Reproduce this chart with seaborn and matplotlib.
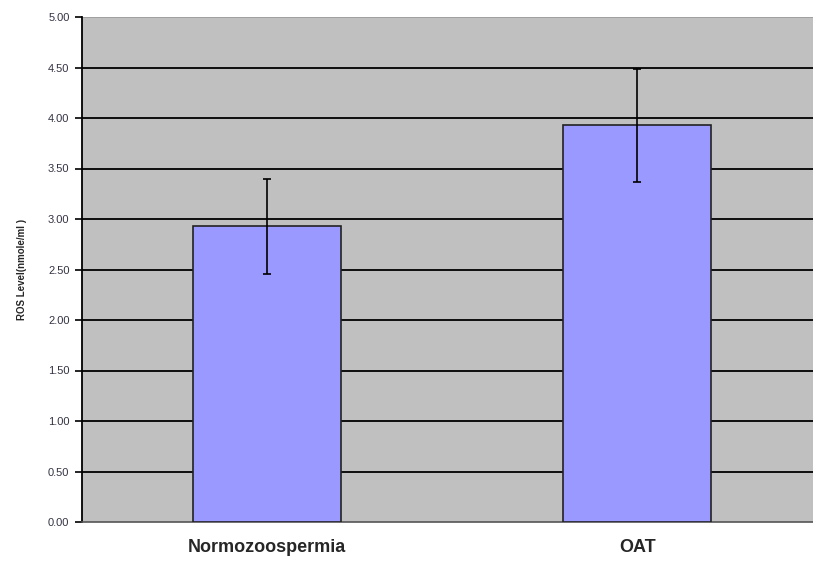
import matplotlib
matplotlib.use("Agg")
import matplotlib.pyplot as plt
import seaborn as sns
import pandas as pd

categories = ["Normozoospermia", "OAT"]
means = [2.93, 3.93]
errors = [0.47, 0.56]
yticks = [0.0, 0.5, 1.0, 1.5, 2.0, 2.5, 3.0, 3.5, 4.0, 4.5, 5.0]

df = pd.DataFrame({"group": categories, "ros": means})

sns.set_style("white")
plt.rcParams['font.family'] = ['Liberation Sans', 'DejaVu Sans']

fig = plt.figure(figsize=(8.13, 5.61), dpi=100)
ax = fig.add_axes([82/813, 39/561, 731/813, 505/561])
ax.set_facecolor("#C0C0C0")

sns.barplot(data=df, x="group", y="ros", color="#9999FF", saturation=1,
            width=0.4, edgecolor="#222222", linewidth=1.2, errorbar=None, ax=ax, zorder=3)
ax.errorbar(range(len(categories)), means, yerr=errors, fmt="none",
            ecolor="black", elinewidth=1.2, capsize=3, capthick=1.2, zorder=4)

for y in yticks[1:-1]:
    ax.axhline(y, color="black", lw=1.3, zorder=1)
ax.axhline(5.0, color="#9a9a9a", lw=1.2, zorder=1)

ax.set_ylim(0, 5.0)
ax.set_xlim(-0.5, 1.475)
ax.set_yticks(yticks)
ax.set_yticklabels([f"{v:.2f}" for v in yticks], fontsize=8, color="#333344")
ax.tick_params(axis="y", direction="out", length=5, width=1.2, color="black", pad=4, left=True)
ax.tick_params(axis="x", length=0, pad=12)
for lbl in ax.get_xticklabels():
    lbl.set_fontweight("bold")
    lbl.set_fontsize(13)
ax.set_xlabel("")
ax.set_ylabel("ROS Level(nmole/ml )", fontsize=7, fontweight="bold", labelpad=15)

for s in ["top", "right"]:
    ax.spines[s].set_visible(False)
ax.spines["left"].set_color("black")
ax.spines["left"].set_linewidth(1.3)
ax.spines["bottom"].set_color("#555555")
ax.spines["bottom"].set_linewidth(1.2)

fig.savefig("out.png", dpi=100)
